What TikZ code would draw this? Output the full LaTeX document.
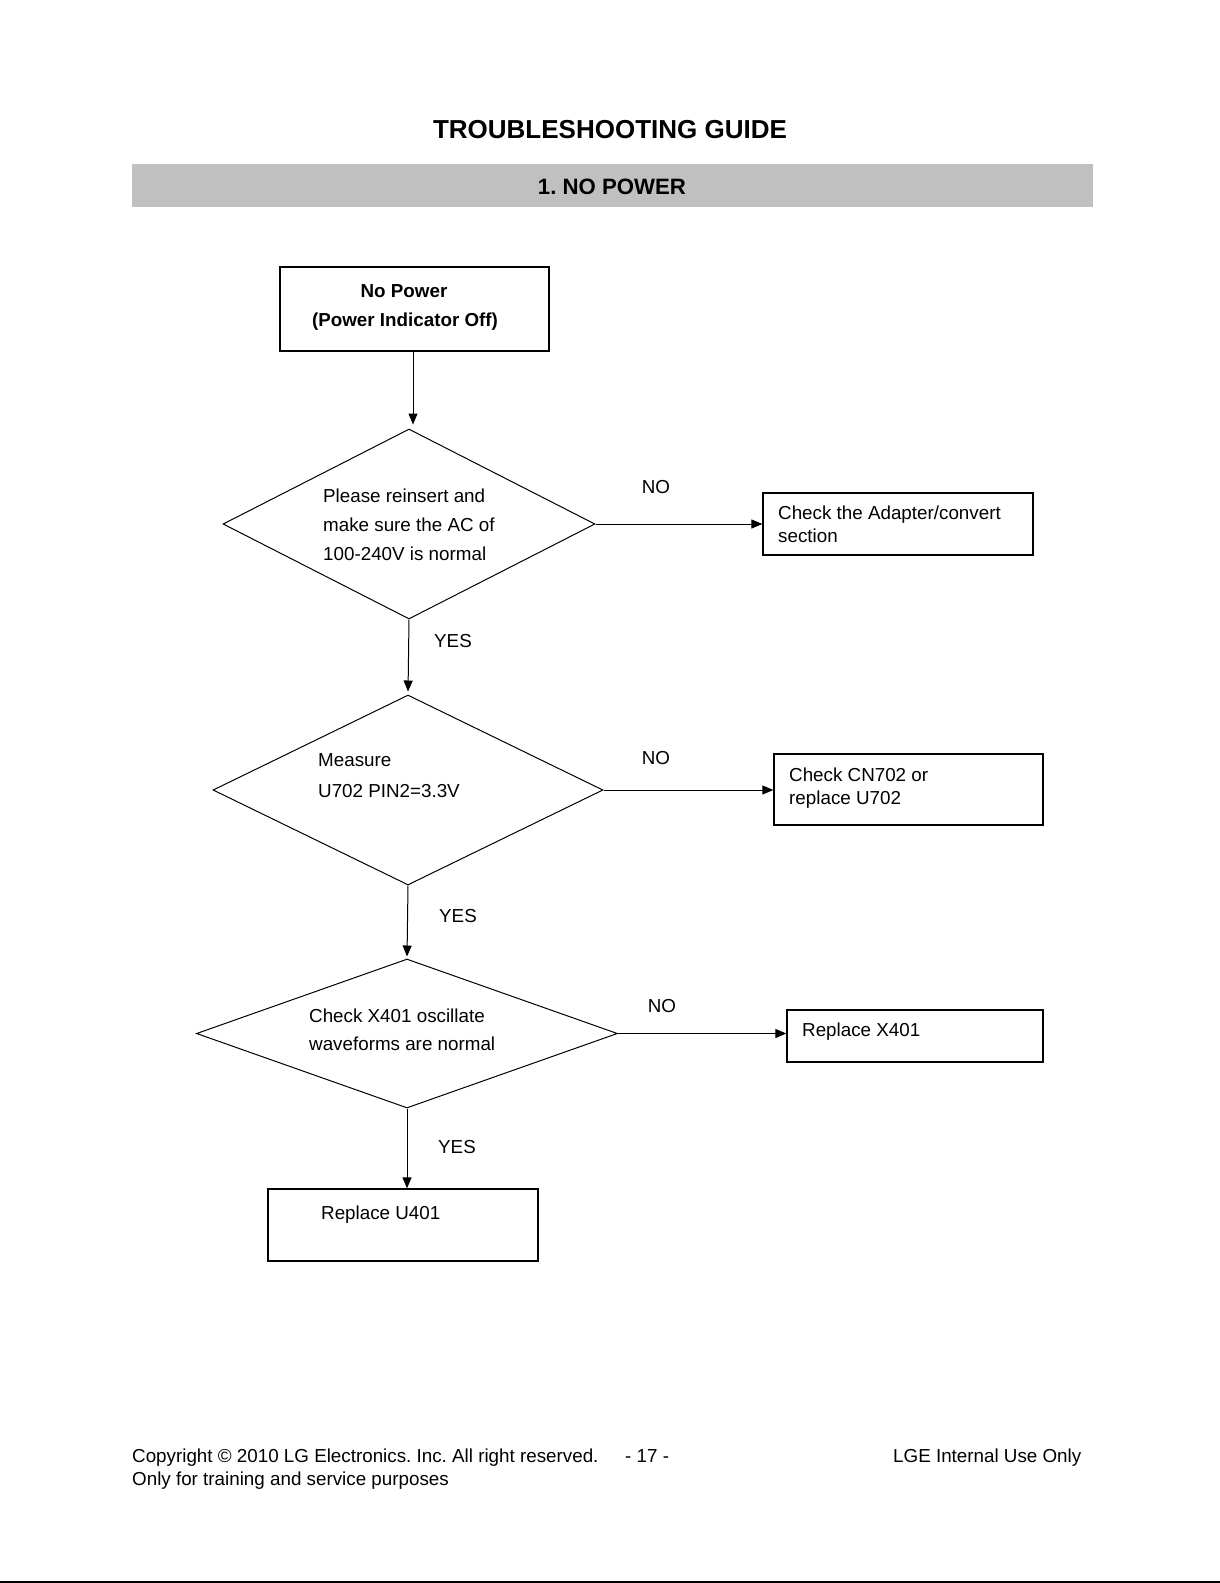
\documentclass[tikz,border=0pt]{standalone}
\usepackage{fontspec}
\setmainfont{Liberation Sans}
\usetikzlibrary{arrows.meta,shapes.geometric}
\definecolor{bargray}{HTML}{C0C0C0}
\frenchspacing
\begin{document}
\frenchspacing
\begin{tikzpicture}[x=1pt,y=-1pt,
  box/.style={draw, line width=1.3pt, rectangle, inner sep=0pt},
  dia/.style={draw, line width=1pt, diamond, inner sep=0pt, aspect=1},
  txt/.style={font=\fontsize{18.8}{23}\selectfont, inner sep=0pt, anchor=base west},
  btxt/.style={font=\bfseries\fontsize{18.8}{23}\selectfont, inner sep=0pt, anchor=base},
  lbl/.style={font=\fontsize{18.8}{23}\selectfont, inner sep=0pt, anchor=base},
  arr/.style={line width=1pt, -{Triangle[length=11pt,width=9pt]}}]
\useasboundingbox (0,0) rectangle (1220,1583);
\fill[white] (0,0) rectangle (1220,1583);

% header
\node[font=\bfseries\fontsize{26}{30}\selectfont, inner sep=0pt, anchor=base] (title) at (610,138) {TROUBLESHOOTING GUIDE};
\node[fill=bargray, inner sep=0pt, minimum width=961pt, minimum height=43pt] (bar) at (612.5,185.5) {};
\node[font=\bfseries\fontsize{22.2}{26}\selectfont, inner sep=0pt, anchor=base] (bartxt) at (612,194) {1. NO POWER};

% boxes
\node[box, line width=1.5pt, minimum width=269pt, minimum height=84pt] (b1) at (414.5,309) {};
\node[btxt] (b1a) at (404,297) {No Power};
\node[btxt] (b1b) at (405,326) {(Power Indicator Off)};

\node[box, minimum width=270pt, minimum height=62pt] (r1) at (898,524) {};
\node[txt] (r1a) at (778,519) {Check the Adapter/convert};
\node[txt] (r1b) at (778,542) {section};

\node[box, minimum width=269pt, minimum height=71pt] (r2) at (908.5,789.5) {};
\node[txt] (r2a) at (789,781) {Check CN702 or};
\node[txt] (r2b) at (789,804) {replace U702};

\node[box, minimum width=256pt, minimum height=52pt] (r3) at (915,1036) {};
\node[txt] (r3a) at (802,1036) {Replace X401};

\node[box, minimum width=270pt, minimum height=72pt] (b5) at (403,1225) {};
\node[txt] (b5a) at (321,1219) {Replace U401};

% diamonds
\node[dia, minimum width=372pt, minimum height=190pt] (d1) at (409,524) {};
\node[txt] (d1a) at (323,502) {Please reinsert and};
\node[txt] (d1b) at (323,531) {make sure the AC of};
\node[txt] (d1c) at (323,560) {100-240V is normal};

\node[dia, minimum width=390pt, minimum height=190pt] (d2) at (408,790) {};
\node[txt] (d2a) at (318,766) {Measure};
\node[txt] (d2b) at (318,797) {U702 PIN2=3.3V};

\node[dia, minimum width=421pt, minimum height=149pt] (d3) at (407,1033.5) {};
\node[txt] (d3a) at (309,1022) {Check X401 oscillate};
\node[txt] (d3b) at (309,1050) {waveforms are normal};

% connectors
\draw[arr, shorten >=4pt] ([xshift=-1.5pt]b1.south) -- ([xshift=-1.5pt]b1.south |- d1.north);
\draw[arr] (d1.east) -- (d1.east -| r1.west);
\draw[arr, shorten >=3pt] (d1.south) -- (d2.north);
\draw[arr] (d2.east) -- (d2.east -| r2.west);
\draw[arr, shorten >=2pt] (d2.south) -- (d3.north);
\draw[arr] (d3.east) -- (d3.east -| r3.west);
\draw[arr] (d3.south) -- (d3.south |- b5.north);

% labels
\node[lbl] (no1) at (656,493) {NO};
\node[lbl] (no2) at (656,764) {NO};
\node[lbl] (no3) at (662,1012) {NO};
\node[lbl] (yes1) at (453,647) {YES};
\node[lbl] (yes2) at (458,922) {YES};
\node[lbl] (yes3) at (457,1153) {YES};

% footer
\node[txt] (f1) at (132,1462) {Copyright \textcopyright{} 2010 LG Electronics. Inc. All right reserved.};
\node[txt] (f2) at (625,1462) {- 17 -};
\node[txt] (f3) at (893,1462) {LGE Internal Use Only};
\node[txt] (f4) at (132,1485) {Only for training and service purposes};
\draw[line width=1.5pt] (0,1582) -- (1220,1582);
\end{tikzpicture}
\end{document}
